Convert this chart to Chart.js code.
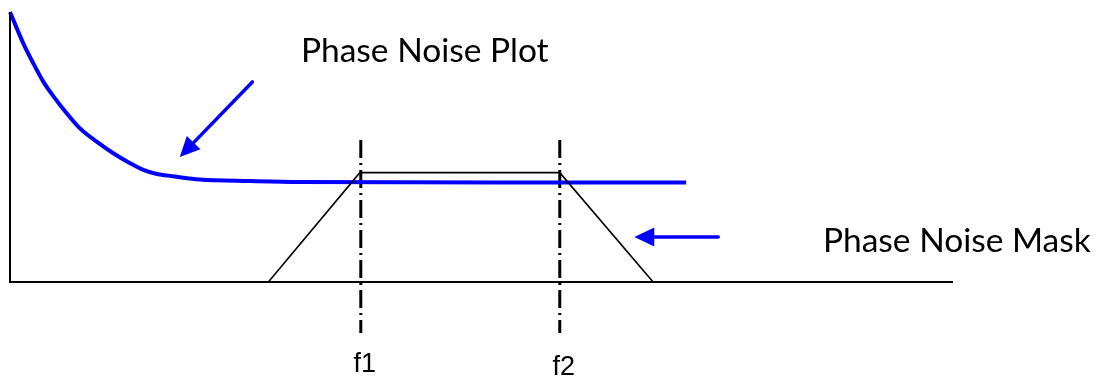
<!DOCTYPE html>
<html>
<head>
<meta charset="utf-8">
<script src="https://cdn.jsdelivr.net/npm/chart.js@4"></script>
<style>
  body { margin: 0; background: #fff; }
  #wrap { width: 1094px; height: 378px; }
</style>
</head>
<body>
<div id="wrap"><canvas id="noiseChart" width="1094" height="378"></canvas></div>
<script>
// phase noise curve (offset freq vs level, arbitrary units)
const curveX = [0, 1.41, 2.47, 3.53, 4.77, 6.01, 7.42, 9.19, 10.95, 12.73, 14.14, 15.56, 16.79, 18.0, 20.1, 25.4, 30.8, 52.0, 71.7];
const curveY = [100, 88.4, 81.0, 74.2, 68.0, 62.5, 56.9, 52.0, 47.7, 44.0, 41.5, 40.0, 39.4, 38.8, 38.0, 37.4, 37.0, 36.85, 36.85];

// mask corners
const maskX = [27.4, 37.1, 58.3, 68.2];
const maskY = [0, 40.5, 40.5, 0];

// marker frequencies
const markerFreqs = [37.2, 58.3];
const markerLabels = ['f1', 'f2'];
const markerTop = 52.6;
const markerBottom = -18.9;

function pts(xs, ys) {
    return xs.map((x, i) => ({x: x, y: ys[i]}));
}

let datasets = [
    {
        // axes
        data: [{x: 0, y: 100}, {x: 0, y: 0}, {x: 100, y: 0}],
        borderColor: '#000',
        borderWidth: 2,
        tension: 0
    },
    {
        data: pts(maskX, maskY),
        borderColor: '#000',
        borderWidth: 1.6,
        tension: 0
    },
    {
        data: pts(curveX, curveY),
        borderColor: '#0000ff',
        borderWidth: 4,
        cubicInterpolationMode: 'monotone'
    }
];
markerFreqs.forEach(f => {
    datasets.push({
        data: [{x: f, y: markerTop}, {x: f, y: markerBottom}],
        borderColor: '#000',
        borderWidth: 3,
        borderDash: [18, 5, 2, 5],
        tension: 0
    });
});
datasets.forEach(d => {
    d.showLine = true;
    d.pointRadius = 0;
    d.clip = false;
    d.borderCapStyle = 'butt';
});

function arrow(ctx, x1, y1, x2, y2) {
    let ang = Math.atan2(y2 - y1, x2 - x1);
    let len = 20, half = 9.5;
    let bx = x2 - len * Math.cos(ang), by = y2 - len * Math.sin(ang);
    ctx.strokeStyle = '#0000ff';
    ctx.fillStyle = '#0000ff';
    ctx.lineWidth = 3.5;
    ctx.lineCap = 'round';
    ctx.beginPath();
    ctx.moveTo(x1, y1);
    ctx.lineTo(bx, by);
    ctx.stroke();
    ctx.beginPath();
    ctx.moveTo(x2, y2);
    ctx.lineTo(bx + half * Math.sin(ang), by - half * Math.cos(ang));
    ctx.lineTo(bx - half * Math.sin(ang), by + half * Math.cos(ang));
    ctx.closePath();
    ctx.fill();
}

const notes = {
    id: 'notes',
    afterDraw(chart) {
        let ctx = chart.ctx;
        let xs = chart.scales.x, ys = chart.scales.y;
        ctx.save();
        // arrows in data units
        arrow(ctx, xs.getPixelForValue(25.7), ys.getPixelForValue(74.1), xs.getPixelForValue(18.0), ys.getPixelForValue(46.3));
        arrow(ctx, xs.getPixelForValue(75.1), ys.getPixelForValue(16.7), xs.getPixelForValue(66.2), ys.getPixelForValue(16.7));

        ctx.fillStyle = '#000';
        ctx.textBaseline = 'alphabetic';
        ctx.textAlign = 'left';
        ctx.font = '33.5px Lato, "Open Sans", sans-serif';
        ctx.fillText('Phase Noise Plot', 301, 62);
        ctx.fillText('Phase Noise Mask', 823, 252);

        ctx.textAlign = 'center';
        ctx.font = '27px "Liberation Sans", Arial, sans-serif';
        markerFreqs.forEach((f, i) => {
            ctx.fillText(markerLabels[i], xs.getPixelForValue(f) + 4, 372 + i * 3);
        });
        ctx.restore();
    }
};

new Chart(document.getElementById('noiseChart'), {
    type: 'scatter',
    data: {datasets: datasets},
    options: {
        responsive: false,
        animation: false,
        layout: {padding: {left: 10, right: 141, top: 12, bottom: 96}},
        plugins: {legend: {display: false}, tooltip: {enabled: false}},
        scales: {
            x: {type: 'linear', min: 0, max: 100, display: false},
            y: {type: 'linear', min: 0, max: 100, display: false}
        }
    },
    plugins: [notes]
});
</script>
</body>
</html>
